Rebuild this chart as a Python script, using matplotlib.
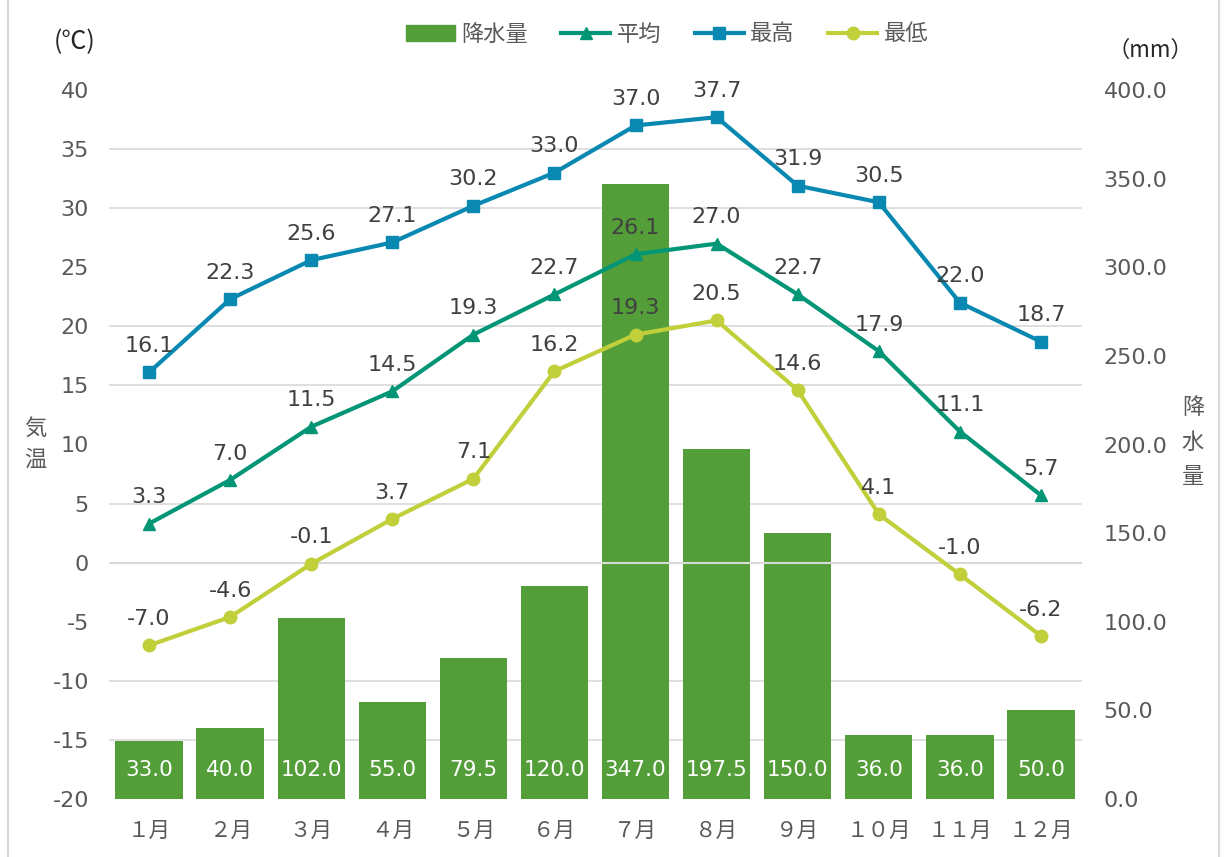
import numpy as np
import matplotlib.pyplot as plt
from matplotlib.ticker import MultipleLocator, FormatStrFormatter
from matplotlib.lines import Line2D
from matplotlib.patches import Patch

plt.rcParams['font.family'] = ['DejaVu Sans', 'Noto Sans CJK JP']
plt.rcParams['axes.unicode_minus'] = False

# データ
months = ["１月", "２月", "３月", "４月", "５月", "６月",
          "７月", "８月", "９月", "１０月", "１１月", "１２月"]
rain = [33.0, 40.0, 102.0, 55.0, 79.5, 120.0, 347.0, 197.5, 150.0, 36.0, 36.0, 50.0]
t_avg = [3.3, 7.0, 11.5, 14.5, 19.3, 22.7, 26.1, 27.0, 22.7, 17.9, 11.1, 5.7]
t_max = [16.1, 22.3, 25.6, 27.1, 30.2, 33.0, 37.0, 37.7, 31.9, 30.5, 22.0, 18.7]
t_min = [-7.0, -4.6, -0.1, 3.7, 7.1, 16.2, 19.3, 20.5, 14.6, 4.1, -1.0, -6.2]

# 色 (Office "Green" テーマ)
c_bar = '#549E39'
c_avg = '#029676'
c_max = '#0989B1'
c_min = '#C0CF3A'
c_txt = '#595959'
c_lbl = '#404040'
c_grid = '#D9D9D9'
jp = ['Noto Sans CJK JP', 'DejaVu Sans']
dv = ['DejaVu Sans']

fig = plt.figure(figsize=(12.26, 8.57), dpi=100)
ax = fig.add_axes([108.5 / 1226, 1 - 799 / 857, (1081.5 - 108.5) / 1226, (799 - 90) / 857])
ax2 = ax.twinx()
ax.set_zorder(ax2.get_zorder() + 1)
ax.patch.set_visible(False)

x = np.arange(len(months))

# 降水量 (右軸)
ax2.bar(x, rain, width=0.83, color=c_bar, zorder=2)
for i, v in enumerate(rain):
    ax2.annotate(f"{v:.1f}", (x[i], 0), xytext=(0, 21), textcoords='offset points',
                 ha='center', va='center', color='white', fontsize=15.5, family=dv, zorder=3)
ax2.set_ylim(0, 400)
ax2.yaxis.set_major_locator(MultipleLocator(50))
ax2.yaxis.set_minor_locator(MultipleLocator(400 / 12))
ax2.yaxis.set_major_formatter(FormatStrFormatter('%.1f'))
ax2.grid(which='minor', axis='y', color=c_grid, lw=1.2)
ax2.set_axisbelow(True)
ax2.tick_params(which='both', length=0)
ax2.tick_params(axis='y', labelsize=16, labelcolor=c_txt, pad=16)

# 気温 (左軸)
ax.axhline(0, color=c_grid, lw=1.5, zorder=1)
series = [(t_avg, c_avg, '^'), (t_max, c_max, 's'), (t_min, c_min, 'o')]
for vals, col, mk in series:
    ax.plot(x, vals, color=col, lw=3, marker=mk, markersize=9, zorder=3,
            solid_capstyle='round')
    for i, v in enumerate(vals):
        ax.annotate(f"{v:.1f}", (x[i], v), xytext=(0, 19), textcoords='offset points',
                    ha='center', va='center', color=c_lbl, fontsize=16, family=dv, zorder=4)

ax.set_xlim(-0.5, len(months) - 0.5)
ax.set_ylim(-20, 40)
ax.yaxis.set_major_locator(MultipleLocator(5))
ax.set_xticks(x)
ax.set_xticklabels(months, family=jp, fontsize=15.5, color=c_txt)
ax.tick_params(length=0)
ax.tick_params(axis='y', labelsize=16, labelcolor=c_txt, pad=14)
ax.tick_params(axis='x', pad=15)
for a in (ax, ax2):
    for s in a.spines.values():
        s.set_visible(False)

# 軸タイトル
fig.text(75 / 1226, 1 - 42 / 857, "(℃)", family=jp, fontsize=18, color='#262626',
         ha='center', va='center')
fig.text(1150 / 1226, 1 - 50 / 857, "（mm）", family=jp, fontsize=16, color='#262626',
         ha='center', va='center')
fig.text(35 / 1226, 1 - 444 / 857, "気\n温", family=jp, fontsize=16, color=c_txt,
         ha='center', va='center', linespacing=1.45)
fig.text(1193 / 1226, 1 - 442 / 857, "降\n水\n量", family=jp, fontsize=16, color=c_txt,
         ha='center', va='center', linespacing=1.65)

# 凡例
handles = [Patch(color=c_bar),
           Line2D([], [], color=c_avg, lw=3, marker='^', markersize=9),
           Line2D([], [], color=c_max, lw=3, marker='s', markersize=9),
           Line2D([], [], color=c_min, lw=3, marker='o', markersize=9)]
fig.legend(handles, ["降水量", "平均", "最高", "最低"], loc='center',
           bbox_to_anchor=(667 / 1226, 1 - 34 / 857), ncol=4, frameon=False,
           prop={'family': jp, 'size': 16}, labelcolor=c_txt,
           handlelength=2.2, handletextpad=0.3, columnspacing=1.5)

# 枠線
fig.add_artist(Line2D([8 / 1226, 8 / 1226], [0, 1], color=c_grid, lw=1.5))
fig.add_artist(Line2D([1219 / 1226, 1219 / 1226], [0, 1], color=c_grid, lw=1.5))

fig.savefig("out.png", dpi=100)
